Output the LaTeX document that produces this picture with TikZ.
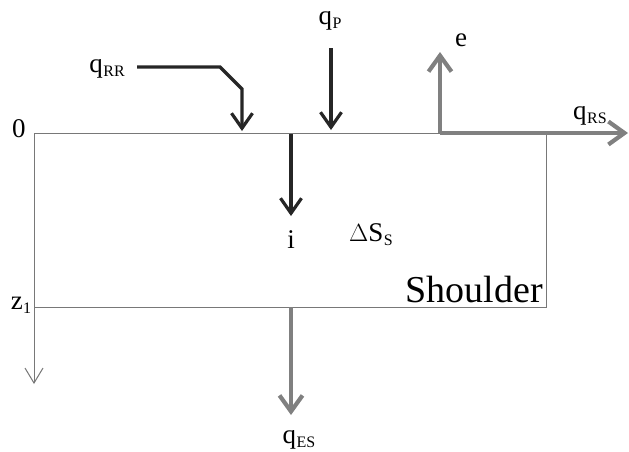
\documentclass[tikz,border=0pt]{standalone}
\usepackage{fontspec}
\setmainfont{Liberation Serif}
\newfontfamily\timesfont{Liberation Serif}
\usetikzlibrary{arrows.meta}
\definecolor{flowgray}{RGB}{128,128,128}
\definecolor{linegray}{RGB}{120,120,120}
\newcommand{\lab}[2]{#1\kern0.5pt\raisebox{-0.15em}{\fontsize{16}{16}\selectfont #2}}
\tikzset{
  lbl/.style={font=\timesfont\fontsize{27}{27}\selectfont, inner sep=0pt},
  blackflow/.style={draw=black!85, line width=3.2pt, -{Straight Barb[length=15pt,width=21pt,line width=3.2pt]}},
  grayflow/.style={draw=flowgray, line width=4.2pt, -{Straight Barb[length=16pt,width=23pt,line width=4.2pt]}},
  thin/.style={draw=linegray, line width=1pt},
}
\begin{document}
\begin{tikzpicture}[x=1pt,y=-1pt]
\useasboundingbox (0,0) rectangle (629,451);
% box
\coordinate (tl) at (34,133);
\coordinate (tr) at (546,133);
\coordinate (br) at (546,307);
\coordinate (bl) at (34,307);
\coordinate (axisend) at (34,384);
\draw[thin] (tl) -- (tr) -- (br) -- (bl);
\draw[thin, -{Straight Barb[length=15pt,width=18pt,line width=1pt]}] (tl) -- (axisend);
% labels
\node[lbl, anchor=base] (zero) at (19,137) {0};
\node[lbl, anchor=base] (z1) at (21,309) {\lab{z}{1}};
\node[lbl, anchor=base] (qRR) at (107,72) {\lab{q}{RR}};
\node[lbl, anchor=base] (qP) at (330,24) {\lab{q}{P}};
\node[lbl, anchor=base] (e) at (461,46) {e};
\node[lbl, anchor=base] (qRS) at (590,119) {\lab{q}{RS}};
\node[lbl, anchor=base] (i) at (291,248) {i};
\node[lbl, anchor=base] (dS) at (371,241) {\lab{$\Delta$S}{S}};
\node[inner sep=0pt, anchor=base east, font=\timesfont\fontsize{38}{38}\selectfont] (sh) at (543,302) {Shoulder};
\node[lbl, anchor=base] (qES) at (299,443) {\lab{q}{ES}};
% flows
\coordinate (rrs) at (137,67);
\coordinate (rrk) at (220,67);
\coordinate (rrd) at (242,89);
\coordinate (rre) at (242,131);
\draw[blackflow] (rrs) -- (rrk) -- (rrd) -- (rre);
\coordinate (ps) at (331,48);
\coordinate (pe) at (331,130);
\draw[blackflow] (ps) -- (pe);
\coordinate (is) at (291,134);
\coordinate (ie) at (291,216);
\draw[blackflow] (is) -- (ie);
\coordinate (o) at (440,133);
\coordinate (etip) at (440,52);
\coordinate (rstip) at (628,133);
\draw[grayflow] (o) -- (etip);
\draw[grayflow] (o) -- (rstip);
\coordinate (ess) at (291,307);
\coordinate (ese) at (291,415);
\draw[grayflow] (ess) -- (ese);
\end{tikzpicture}
\end{document}
